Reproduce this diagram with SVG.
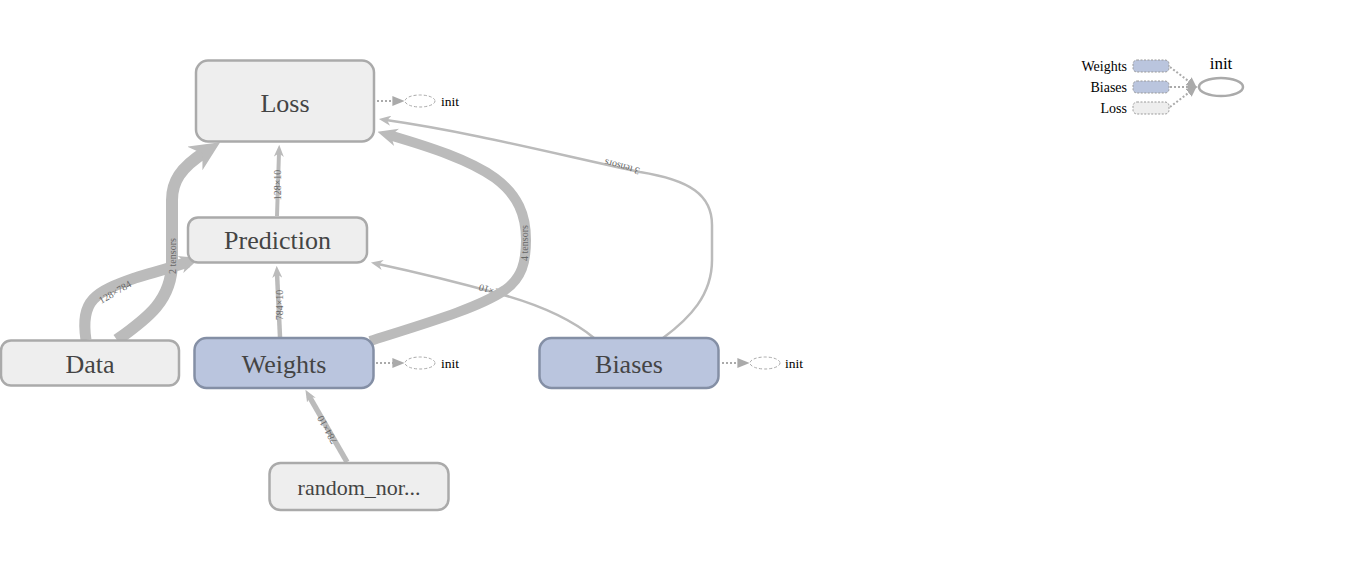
<svg xmlns="http://www.w3.org/2000/svg" width="1364" height="578" viewBox="0 0 1364 578">
<defs>
<style>
.node rect{stroke-width:2.5}
.gray rect{fill:#eeeeee;stroke:#aaaaaa}
.blue rect{fill:#bac5de;stroke:#848fa5}
.nlabel{font-family:"Liberation Serif","Times New Roman",serif;font-size:26px;fill:#444;text-anchor:middle}
.edge{fill:none;stroke:#bbb}
.elabel{font-family:"Liberation Serif","Times New Roman",serif;font-size:10px;fill:#666;text-anchor:middle;dominant-baseline:central}
.dot{fill:none;stroke:#aaa;stroke-width:2;stroke-dasharray:2,2}
.ann{fill:#fff;stroke:#aaa;stroke-width:1;stroke-dasharray:3,2}
.init{font-family:"Liberation Serif","Times New Roman",serif;font-size:13.5px;fill:#000}
.leg{font-family:"Liberation Serif","Times New Roman",serif;font-size:14px;fill:#000;text-anchor:end}
</style>
<marker id="as" viewBox="0 0 10 10" refX="4" refY="5" markerUnits="userSpaceOnUse" markerWidth="12" markerHeight="10" orient="auto" preserveAspectRatio="none"><path d="M0,0 L10,5 L0,10 L3,5 z" fill="#bbb"/></marker>
<marker id="am" viewBox="0 0 10 10" refX="4" refY="5" markerUnits="userSpaceOnUse" markerWidth="20" markerHeight="18" orient="auto" preserveAspectRatio="none"><path d="M0,0 L10,5 L0,10 L3,5 z" fill="#bbb"/></marker>
<marker id="al" viewBox="0 0 10 10" refX="4" refY="5" markerUnits="userSpaceOnUse" markerWidth="30" markerHeight="28" orient="auto" preserveAspectRatio="none"><path d="M0,0 L10,5 L0,10 L3,5 z" fill="#bbb"/></marker>
<marker id="ai" viewBox="0 0 10 10" refX="3" refY="5" markerUnits="userSpaceOnUse" markerWidth="12" markerHeight="10" orient="auto" preserveAspectRatio="none"><path d="M0,0 L10,5 L0,10 z" fill="#aaa"/></marker>
<marker id="ag" viewBox="0 0 10 10" refX="3" refY="5" markerUnits="userSpaceOnUse" markerWidth="10" markerHeight="10" orient="auto" preserveAspectRatio="none"><path d="M0,0 L10,5 L0,10 z" fill="#aaa"/></marker>
</defs>
<rect width="1364" height="578" fill="#fff"/>

<g id="connectors">
  <!-- Biases -> Prediction -->
  <path class="edge" stroke-width="2.5" d="M594,338 C570,318 540,305 500,294 C460,283 420,273 378,264" marker-end="url(#as)"/>
  <text class="elabel" transform="translate(489,290) rotate(196)">1×10</text>
  <!-- Biases -> Loss -->
  <path class="edge" stroke-width="2.5" d="M663,338 C690,318 712,295 712,260 L712,225 C712,195 690,180 640,172 C560,155 470,132 386,120" marker-end="url(#as)"/>
  <text class="elabel" transform="translate(622,167) rotate(-165)">3 tensors</text>
  <!-- Prediction -> Loss -->
  <path class="edge" stroke-width="4" d="M277,216 L279,152" marker-end="url(#as)"/>
  <text class="elabel" transform="translate(277,185) rotate(-90)">128×10</text>
  <!-- Weights -> Prediction -->
  <path class="edge" stroke-width="4.5" d="M280,337 L277,273" marker-end="url(#as)"/>
  <text class="elabel" transform="translate(279,305) rotate(-90)">784×10</text>
  <!-- random_normal -> Weights -->
  <path class="edge" stroke-width="5.5" d="M347,462 L309,396" marker-end="url(#as)"/>
  <text class="elabel" transform="translate(327,430) rotate(-119)">784×10</text>
  <!-- Weights -> Loss -->
  <path class="edge" stroke-width="10" d="M370,341 C430,322 478,308 505,290 C522,278 526,262 526,240 C526,215 518,195 495,178 C470,160 430,147 389,135" marker-end="url(#am)"/>
  <text class="elabel" transform="translate(524,243) rotate(-90)">4 tensors</text>
  <!-- Data -> Prediction -->
  <path class="edge" stroke-width="11" d="M86,340 C80,300 95,292 135,278 C155,272 170,268 188,262" marker-end="url(#am)"/>
  <text class="elabel" transform="translate(115,292) rotate(-30)">128×784</text>
  <!-- Data -> Loss -->
  <path class="edge" stroke-width="12" d="M117,340 C148,318 172,300 172,262 L172,200 C172,182 180,168 205,152" marker-end="url(#al)"/>
  <text class="elabel" transform="translate(172,256) rotate(-90)">2 tensors</text>
  <!-- init annotations -->
  <line class="dot" x1="377" y1="101" x2="396" y2="101" marker-end="url(#ai)"/>
  <line class="dot" x1="376" y1="363" x2="396" y2="363" marker-end="url(#ai)"/>
  <line class="dot" x1="722" y1="363" x2="741" y2="363" marker-end="url(#ai)"/>
</g>

<g id="node-loss" class="node gray">
  <rect x="196" y="60.5" width="178" height="81" rx="12"/>
  <text class="nlabel" x="285" y="111.5">Loss</text>
</g>
<g id="node-prediction" class="node gray">
  <rect x="188" y="217.5" width="179" height="45" rx="10"/>
  <text class="nlabel" x="277.5" y="249">Prediction</text>
</g>
<g id="node-data" class="node gray">
  <rect x="1" y="340.5" width="178" height="45" rx="10"/>
  <text class="nlabel" x="90" y="373">Data</text>
</g>
<g id="node-weights" class="node blue">
  <rect x="194.5" y="338" width="179" height="50" rx="12"/>
  <text class="nlabel" x="284" y="372.5">Weights</text>
</g>
<g id="node-biases" class="node blue">
  <rect x="539.5" y="338" width="179" height="50" rx="12"/>
  <text class="nlabel" x="629" y="373">Biases</text>
</g>
<g id="node-random" class="node gray">
  <rect x="269.5" y="463" width="179" height="47" rx="11"/>
  <text class="nlabel" x="359" y="495" style="font-size:22px">random_nor...</text>
</g>

<g id="init-loss">
  <ellipse class="ann" cx="420" cy="101" rx="15" ry="6"/>
  <text class="init" x="441" y="105.5">init</text>
</g>
<g id="init-weights">
  <ellipse class="ann" cx="420" cy="363" rx="15" ry="6"/>
  <text class="init" x="441" y="367.5">init</text>
</g>
<g id="init-biases">
  <ellipse class="ann" cx="765" cy="363" rx="15" ry="6"/>
  <text class="init" x="785" y="367.5">init</text>
</g>

<g id="legend">
  <text class="leg" x="1127" y="70.5">Weights</text>
  <text class="leg" x="1127" y="91.5">Biases</text>
  <text class="leg" x="1127" y="112.5">Loss</text>
  <rect x="1133" y="60" width="36" height="12" rx="4" fill="#bac5de" stroke="#999" stroke-width="1" stroke-dasharray="2,1.5"/>
  <rect x="1133" y="81" width="36" height="12" rx="4" fill="#bac5de" stroke="#999" stroke-width="1" stroke-dasharray="2,1.5"/>
  <rect x="1133" y="102" width="36" height="12" rx="4" fill="#eeeeee" stroke="#999" stroke-width="1" stroke-dasharray="2,1.5"/>
  <line class="dot" x1="1170" y1="67" x2="1191" y2="83" marker-end="url(#ag)"/>
  <line class="dot" x1="1170" y1="87" x2="1191" y2="87" marker-end="url(#ag)"/>
  <line class="dot" x1="1170" y1="107" x2="1191" y2="91" marker-end="url(#ag)"/>
  <ellipse cx="1221" cy="87" rx="22" ry="9" fill="#fff" stroke="#aaa" stroke-width="2.5"/>
  <text x="1221" y="69" style="font-family:'Liberation Serif','Times New Roman',serif;font-size:17px;fill:#000;text-anchor:middle">init</text>
</g>
</svg>
